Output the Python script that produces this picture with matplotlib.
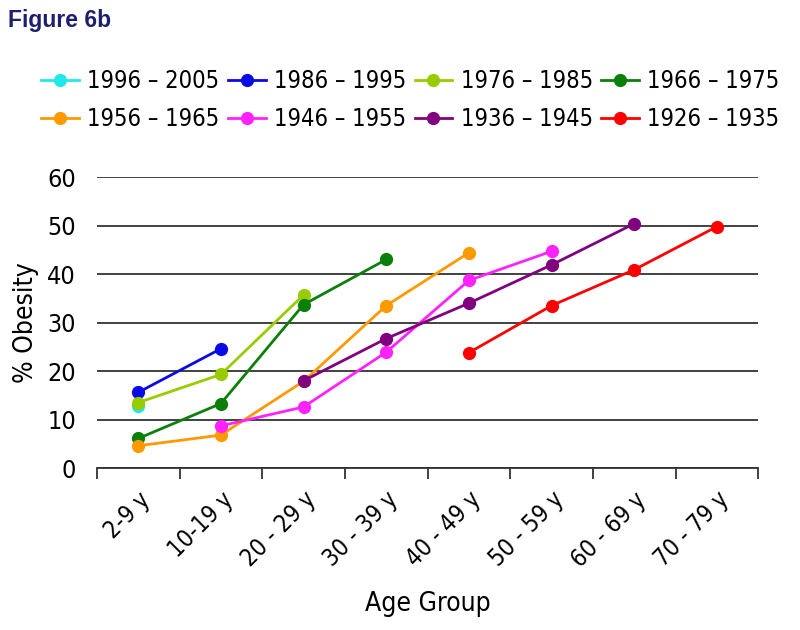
import matplotlib
matplotlib.use('Agg')
from matplotlib import pyplot as plt

plt.rcParams['font.family'] = ['DejaVu Sans']
plt.rcParams['font.stretch'] = 'condensed'

# data
age_groups = ['2-9 y', '10-19 y', '20 - 29 y', '30 - 39 y',
              '40 - 49 y', '50 - 59 y', '60 - 69 y', '70 - 79 y']
cohorts = ['1996 – 2005', '1986 – 1995', '1976 – 1985', '1966 – 1975',
           '1956 – 1965', '1946 – 1955', '1936 – 1945', '1926 – 1935']
colors = ['#22e8e8', '#0a0ae6', '#99cc00', '#0a800a',
          '#ff9900', '#ff22ff', '#800080', '#ff0000']
# first age group index of each cohort, then its values
start_idx = [0, 0, 0, 0, 0, 1, 2, 4]
values = [
    [12.8],
    [15.6, 24.6],
    [13.5, 19.3, 35.7],
    [6.1, 13.3, 33.7, 43.0],
    [4.6, 6.8, 17.9, 33.5, 44.4],
    [8.7, 12.6, 23.9, 38.7, 44.7],
    [18.0, 26.7, 34.0, 41.9, 50.4],
    [23.8, 33.5, 40.9, 49.8],
]

fig = plt.figure(figsize=(8, 6.3), dpi=100)
ax = fig.add_axes([0.121, 0.257, 0.827, 0.462])

lines = []
for name, col, s, vals in zip(cohorts, colors, start_idx, values):
    xs = list(range(s, s + len(vals)))
    ln, = ax.plot(xs, vals, color=col, lw=2, marker='o', ms=8.5, label=name, zorder=3)
    lines.append(ln)

ax.set_xlim(-0.5, 7.5)
ax.set_ylim(0, 60)
ax.set_yticks(range(0, 61, 10))
ax.yaxis.grid(True, color='#333333', lw=1.3)
ax.set_axisbelow(True)
for sp in ['left', 'right', 'top']:
    ax.spines[sp].set_visible(False)
ax.spines['bottom'].set_color('#333333')
ax.spines['bottom'].set_linewidth(1.3)
ax.tick_params(axis='y', length=0, labelsize=18, pad=15)

ax.set_xticks(range(len(age_groups)))
ax.set_xticklabels(age_groups, rotation=45, ha='right', rotation_mode='anchor', fontsize=17)
ax.tick_params(axis='x', which='major', length=0, pad=14)
ax.set_xticks([i - 0.5 for i in range(len(age_groups) + 1)], minor=True)
ax.tick_params(axis='x', which='minor', length=8, width=1.3, color='#333333', direction='out')

ax.set_ylabel('% Obesity', fontsize=19, labelpad=6)
ax.set_xlabel('Age Group', fontsize=19, labelpad=14)

# legend filled row by row
order = [0, 4, 1, 5, 2, 6, 3, 7]
fig.legend([lines[i] for i in order], [cohorts[i] for i in order],
           loc='upper left', bbox_to_anchor=(0.04, 0.905), ncol=4, frameon=False,
           fontsize=17, handlelength=1.6, handletextpad=0.35, columnspacing=0.35,
           labelspacing=0.6, borderaxespad=0)

fig.text(0.01, 0.985, 'Figure 6b', ha='left', va='top', fontsize=16.5,
         fontweight='bold', color='#1e1e6e', family='Liberation Sans')

fig.savefig('out.png', dpi=100)
